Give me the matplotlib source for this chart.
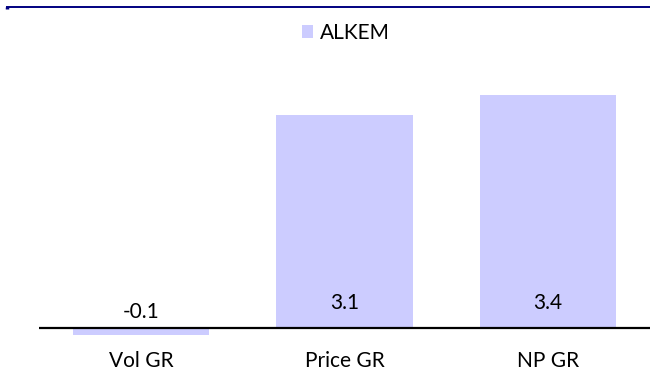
import matplotlib
matplotlib.use("Agg")
import matplotlib.pyplot as plt
from matplotlib.lines import Line2D
from matplotlib.patches import Patch

plt.rcParams['font.family'] = ['Lato', 'DejaVu Sans']

categories = ["Vol GR", "Price GR", "NP GR"]
values = [-0.1, 3.1, 3.4]
labels = ["-0.1", "3.1", "3.4"]
series_name = "ALKEM"

bar_color = "#CCCCFF"
FS = 15

W, H = 650, 370
fig = plt.figure(figsize=(6.5, 3.7), dpi=100)
ax = fig.add_axes([39 / W, 25 / H, 611 / W, 305 / H])

x = list(range(len(categories)))
ax.bar(x, values, width=0.668, color=bar_color, zorder=2)
ax.axhline(0, color="black", lw=1.6, zorder=3)

ax.set_xlim(-0.5, 2.5)
ax.set_ylim(-0.25, 4.2)
for s in ax.spines.values():
    s.set_visible(False)
ax.set_yticks([])
ax.set_xticks(x)
ax.set_xticklabels(categories, fontsize=FS, color="black")
ax.tick_params(axis="x", length=0, pad=4)

for xi, v, lab in zip(x, values, labels):
    off = 18 if v >= 0 else 11.5
    ax.annotate(lab, (xi, 0), xytext=(0, off), textcoords="offset points",
                ha="center", va="center", fontsize=FS, color="black", zorder=4)

handles = [Patch(facecolor=bar_color, edgecolor="none", label=series_name)]
fig.legend(handles=handles, loc="center", bbox_to_anchor=(346 / W, 1 - 33 / H),
           frameon=False, fontsize=FS, handlelength=0.53, handleheight=0.53,
           handletextpad=0.34, borderpad=0)

# top rule
fig.add_artist(Line2D([6 / W, 1.0], [1 - 6.8 / H, 1 - 6.8 / H], color="#000080", lw=1.4,
                      solid_capstyle="butt", transform=fig.transFigure))
fig.add_artist(Line2D([7 / W, 7 / W], [1 - 6.5 / H, 1 - 9 / H], color="#000080", lw=2.5,
                      solid_capstyle="butt", transform=fig.transFigure))

fig.savefig("out.png", dpi=100)
